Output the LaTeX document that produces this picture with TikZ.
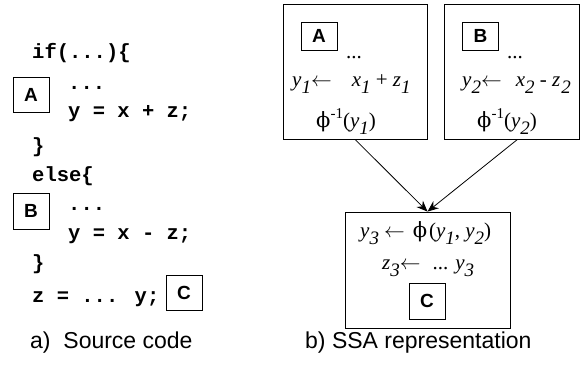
\documentclass[tikz,border=0pt]{standalone}
\usepackage{fontspec}
\setmainfont{Liberation Sans}
\newfontfamily\codefont{Liberation Mono}
\newfontfamily\ssafont{Liberation Serif}
\newfontfamily\phifont{DejaVu Serif}
\usetikzlibrary{arrows.meta}

% italic variable with a lowered index
\newcommand{\vs}[2]{\textit{#1}\raisebox{-7pt}{\fontsize{19}{19}\selectfont\textit{#2}}}
\newcommand{\phinv}{{\phifont ϕ}\raisebox{9pt}{\fontsize{15}{15}\selectfont -1}}

\begin{document}
\begin{tikzpicture}[x=1pt,y=-1pt,
  code/.style={anchor=base west,inner sep=0pt,font=\codefont\bfseries\fontsize{20.5}{24}\selectfont},
  lbl/.style={draw,line width=0.8pt,inner sep=0pt,minimum width=36pt,font=\bfseries\fontsize{19}{20}\selectfont},
  ssa/.style={anchor=base west,inner sep=0pt,font=\ssafont\fontsize{21}{24}\selectfont},
  blk/.style={draw,line width=0.8pt,inner sep=0pt},
  capt/.style={anchor=base west,inner sep=0pt,font=\fontsize{23}{26}\selectfont}]
\useasboundingbox (0,0) rectangle (583,364);

% a) source code
\node[code] (c1) at (32,58) {if(...)\{};
\node[code] (c2) at (68,89) {...};
\node[code] (c3) at (68,117) {y = x + z;};
\node[code] (c4) at (32,152) {\}};
\node[code] (c5) at (32,181) {else\{};
\node[code] (c6) at (68,210) {...};
\node[code] (c7) at (68,239) {y = x - z;};
\node[code] (c8) at (32,269) {\}};
\node[code] (c9) at (32,302) {z = ... y;};
\node[lbl,minimum height=35pt] (srcA) at (31,94.5) {A};
\node[lbl,minimum height=36pt] (srcB) at (31,211) {B};
\node[lbl,minimum height=35pt] (srcC) at (184,292.5) {C};
\node[capt] (capA) at (30,348) {a)\ \ Source code};

% b) SSA form
\node[blk,minimum width=144pt,minimum height=135pt] (blkA) at (355,71.5) {};
\node[blk,minimum width=135pt,minimum height=135pt] (blkB) at (511.5,71.5) {};
\node[blk,minimum width=165pt,minimum height=116pt] (blkC) at (427.5,270) {};

\node[lbl,minimum height=28pt] (ssaA) at (319,36) {A};
\node[ssa] (a1) at (346,58) {...};
\node[ssa] (a2) at (292,86) {\vs{y}{1}$\leftarrow$\hspace{20pt}\vs{x}{1} + \vs{z}{1}};
\node[ssa] (a3) at (316,127) {\phinv(\vs{y}{1})};

\node[lbl,minimum height=28pt] (ssaB) at (480.5,36) {B};
\node[ssa] (b1) at (507,58) {...};
\node[ssa] (b2) at (462,86) {\vs{y}{2}$\leftarrow$\hspace{14pt}\vs{x}{2} - \vs{z}{\hspace{1pt}2}};
\node[ssa] (b3) at (477,127) {\phinv(\vs{y}{2})};

\node[ssa] (s1) at (360,237) {\vs{y}{3}\hspace{5pt}$\leftarrow$\hspace{8pt}{\phifont ϕ}\hspace{2pt}(\vs{y}{1}, \vs{y}{2})};
\node[ssa] (s2) at (382,269) {\vs{z}{3}$\leftarrow$\hspace{12pt}... \vs{y}{3}};
\node[lbl,minimum height=36pt] (ssaC) at (427,301) {C};

\draw[-{Stealth[length=11pt,width=9pt]},line width=0.8pt] (blkA.south) -- (blkC.north);
\draw[-{Stealth[length=11pt,width=9pt]},line width=0.8pt] ([xshift=6pt]blkB.south) -- (blkC.north);

\node[capt] (capB) at (305,348) {b) SSA representation};
\end{tikzpicture}
\end{document}
